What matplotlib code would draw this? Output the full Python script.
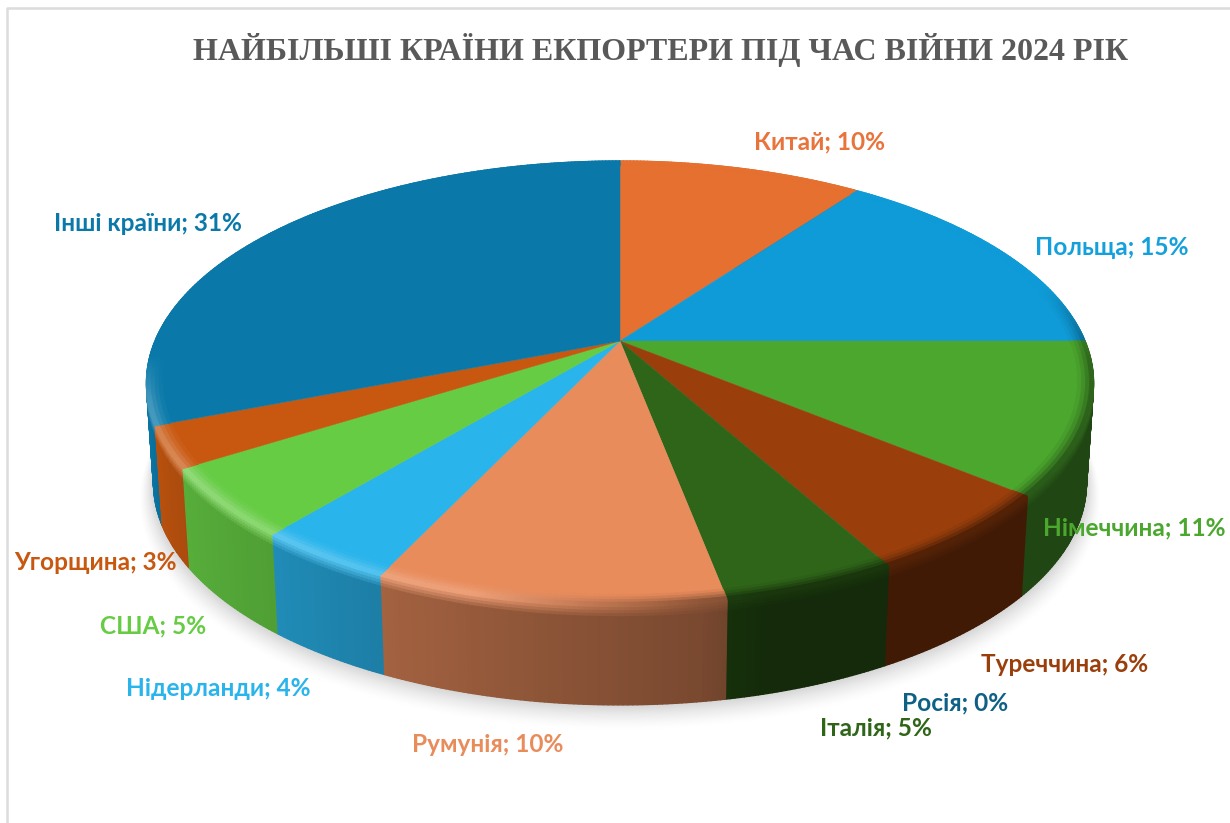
import numpy as np
import matplotlib
matplotlib.use("Agg")
import matplotlib.pyplot as plt
from matplotlib.collections import PolyCollection
from matplotlib.colors import to_rgb

title = "НАЙБІЛЬШІ КРАЇНИ ЕКПОРТЕРИ ПІД ЧАС ВІЙНИ 2024 РІК"
countries = ["Китай", "Польща", "Німеччина", "Туреччина", "Росія", "Італія",
             "Румунія", "Нідерланди", "США", "Угорщина", "Інші країни"]
shares = [10, 15, 11, 6, 0, 5, 10, 4, 5, 3, 31]

colors = ["#E5702F", "#0F9BD7", "#4CA72E", "#9A3F0C", "#0E6085", "#2F6518",
          "#E98C5C", "#29B4EC", "#66CC44", "#C85810", "#0A79A9"]
label_colors = ["#E8743B", "#14A0DC", "#4CA72E", "#9A3F0C", "#0E6085", "#2F6518",
                "#E98C5C", "#29B4EC", "#66CC44", "#C85810", "#0A79A9"]
# label centres in pixels
label_xy = [(820, 142), (1112, 247), (1134, 528), (1065, 664), (955, 703), (876, 728),
            (488, 744), (218, 689), (153, 626), (96, 562), (148, 223)]

# perspective of the pie plane
cx, cy = 620, 341
a, b, k = 465, 214, 0.189
depth = 100
taper = 0.015  # wall narrows towards its bottom


def project(t, r=1.0):
    x = r * np.sin(np.radians(t))
    y = r * np.cos(np.radians(t))
    den = 1 + k * y
    return cx + a * x / den, cy - b * y / den


def lowered(x, y, o):
    # point of the wall o pixels under the rim point x, y
    return x - taper * (x - cx) * o / depth, y + o


def wall_shade(t):
    return np.interp(t, [90, 130, 165, 172, 205, 220, 237, 250, 272, 300],
                     [0.42, 0.42, 0.42, 0.52, 0.70, 0.78, 0.85, 0.93, 1.12, 1.12])


def highlight(t):
    return np.interp(t, [172, 195, 240, 255, 266], [0, 0.16, 0.28, 0.22, 0])


def dark_edge(t):
    return np.interp(t, [75, 95, 130, 172, 195], [0, 0.8, 1, 1, 0])


fig = plt.figure(figsize=(12.3, 8.23), dpi=100)
ax = fig.add_axes([0, 0, 1, 1])
ax.set_xlim(0, 1230)
ax.set_ylim(823, 0)
ax.axis("off")

# page frame
ax.plot([7, 7, 1230], [823, 8, 8], color="#DCDCDC", lw=1.8, zorder=1)

# soft shadow under the pie
tt = np.linspace(0, 360, 361)
for s in np.linspace(1, 0, 30):
    sx, sy = project(tt, 1 + 0.03 * s)
    sx, sy = lowered(sx, sy, depth)
    ax.fill(sx, sy + 16 * s, color=str(1 - 0.17 * (1 - s) ** 1.5), lw=0, zorder=2)

edges = np.concatenate([[0], np.cumsum(shares)]) * 360 / sum(shares)

quads, quad_colors, quad_y = [], [], []
rim_quads, rim_colors = [], []
for i in range(len(shares)):
    if shares[i] == 0:
        continue
    top = np.array(to_rgb(colors[i]))
    steps = np.arange(edges[i], edges[i + 1] + 0.5, 0.5)
    steps[-1] = edges[i + 1]
    for t0, t1 in zip(steps[:-1], steps[1:]):
        tm = (t0 + t1) / 2
        wall = np.clip(top * wall_shade(tm), 0, 1)
        edge = top + (1 - top) * highlight(tm)
        edge = edge + (wall - edge) * dark_edge(tm) * 0.8
        x0, y0 = project(t0)
        x1, y1 = project(t1)
        # wall, with a short blend from the rim colour
        offs = [0, 3, 6, 9, 12, depth]
        for o0, o1 in zip(offs[:-1], offs[1:]):
            f = min(o0 / 12, 1)
            quads.append([lowered(x0, y0, o0), lowered(x1, y1, o0),
                          lowered(x1, y1, o1), lowered(x0, y0, o1)])
            quad_colors.append(edge + (wall - edge) * f)
            quad_y.append(min(y0, y1))
        # bevel on the top face
        rs = np.linspace(0.968, 1, 5)
        for j in range(4):
            ax0, ay0 = project(t0, rs[j])
            ax1, ay1 = project(t1, rs[j])
            bx0, by0 = project(t0, rs[j + 1])
            bx1, by1 = project(t1, rs[j + 1])
            rim_quads.append([(ax0, ay0), (ax1, ay1), (bx1, by1), (bx0, by0)])
            rim_colors.append(top + (edge - top) * ((j + 1) / 4) ** 1.5)

order = np.argsort(quad_y, kind="stable")
quads = [quads[i] for i in order]
quad_colors = [quad_colors[i] for i in order]
ax.add_collection(PolyCollection(quads, facecolors=quad_colors, edgecolors=quad_colors,
                                 linewidths=1.0, zorder=3))

# top face
for i in range(len(shares)):
    if shares[i] == 0:
        continue
    t = np.linspace(edges[i], edges[i + 1], 200)
    px, py = project(t, 0.972)
    ax.fill(np.r_[cx, px], np.r_[cy, py], color=colors[i], lw=0.3, zorder=4)
ax.add_collection(PolyCollection(rim_quads, facecolors=rim_colors, edgecolors=rim_colors,
                                 linewidths=0.8, zorder=4))

ax.text(660.5, 50, title, family="Liberation Serif", weight="bold", fontsize=23.05,
        color="#595959", ha="center", va="center", zorder=6)
for name, share, col, xy in zip(countries, shares, label_colors, label_xy):
    ax.text(xy[0], xy[1], f"{name}; {share}%", family="Lato", weight="bold", fontsize=17.6,
            color=col, ha="center", va="center", zorder=6)

fig.savefig("out.png", dpi=100)
